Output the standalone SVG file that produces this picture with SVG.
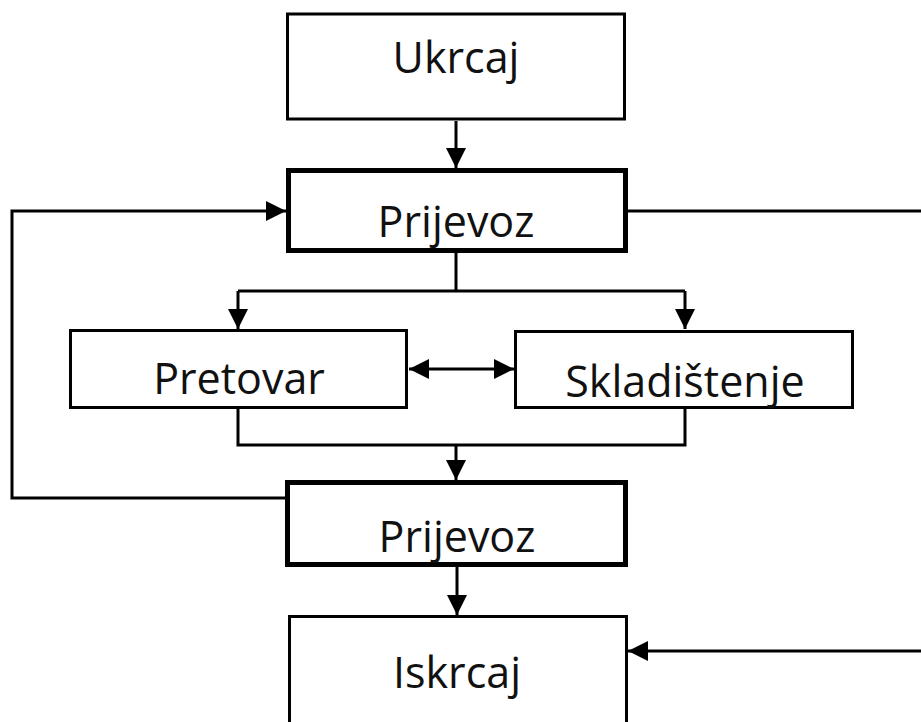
<svg xmlns="http://www.w3.org/2000/svg" width="921" height="722" viewBox="0 0 921 722">
<style>
.box{fill:#fff;stroke:#000;stroke-width:3}
.thick{stroke-width:5}
.lbl{font-family:"Open Sans","Noto Sans","DejaVu Sans",sans-serif;font-size:43px;fill:#111;text-anchor:middle}
.con{fill:none;stroke:#000;stroke-width:3}
</style>
<defs>
<marker id="ah" markerUnits="userSpaceOnUse" markerWidth="20" markerHeight="20" viewBox="0 0 20 20" refX="20" refY="10" orient="auto-start-reverse">
<path d="M0,0 L20,10 L0,20 z" fill="#000"/>
</marker>
</defs>
<g id="connectors">
<path class="con" d="M456,121 V168" marker-end="url(#ah)"/>
<path class="con" d="M286,498 H12 V211 H286" marker-end="url(#ah)"/>
<path class="con" d="M628,211 H921"/>
<path class="con" d="M456,253 V291"/>
<path class="con" d="M238,291 H685"/>
<path class="con" d="M238,291 V329" marker-end="url(#ah)"/>
<path class="con" d="M685,291 V329" marker-end="url(#ah)"/>
<path class="con" d="M409,369 H514" marker-start="url(#ah)" marker-end="url(#ah)"/>
<path class="con" d="M238,409 V445 H685 V409"/>
<path class="con" d="M456,445 V480" marker-end="url(#ah)"/>
<path class="con" d="M457,567 V615" marker-end="url(#ah)"/>
<path class="con" d="M921,651 H628" marker-end="url(#ah)"/>
</g>
<g id="ukrcaj">
<rect class="box" x="287.5" y="14" width="337" height="105"/>
<text class="lbl" x="456" y="73">Ukrcaj</text>
</g>
<g id="prijevoz1">
<rect class="box thick" x="288.5" y="170.5" width="337" height="80"/>
<text class="lbl" x="456" y="237">Prijevoz</text>
</g>
<g id="pretovar">
<rect class="box" x="70.5" y="330.5" width="336" height="77"/>
<text class="lbl" x="239" y="394">Pretovar</text>
</g>
<g id="skladistenje">
<rect class="box" x="515.5" y="331.5" width="337" height="76"/>
<text class="lbl" x="685" y="397">Skladištenje</text>
</g>
<g id="prijevoz2">
<rect class="box thick" x="287.5" y="482.5" width="338" height="82"/>
<text class="lbl" x="457" y="552">Prijevoz</text>
</g>
<g id="iskrcaj">
<rect class="box" x="289.5" y="616.5" width="337" height="120"/>
<text class="lbl" x="457" y="688">Iskrcaj</text>
</g>
</svg>
